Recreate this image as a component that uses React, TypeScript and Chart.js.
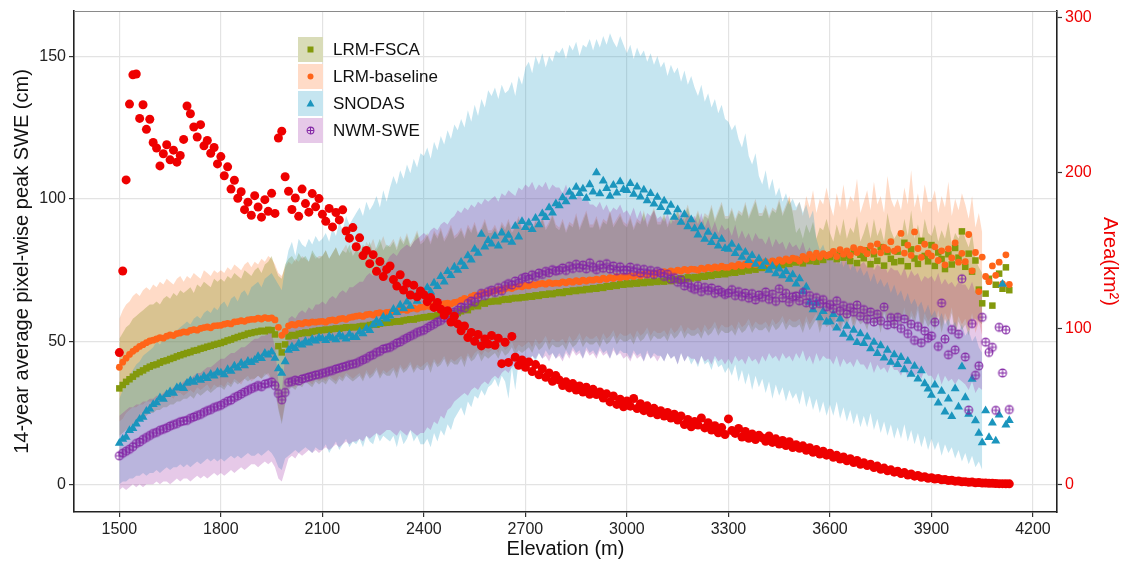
import { useEffect, useRef } from 'react';
import { Chart, registerables } from 'chart.js';

Chart.register(...registerables);

// ---- categories (10 m elevation bins) ----
const ELEVATION: number[] = Array.from({ length: 264 }, (_, i) => 1500 + i * 10);
const X_TICKS = [1500, 1800, 2100, 2400, 2700, 3000, 3300, 3600, 3900, 4200];
const Y_TICKS = [0, 50, 100, 150];
const Y2_TICKS = [0, 100, 200, 300];
const LEGEND_LABELS = ['LRM-FSCA', 'LRM-baseline', 'SNODAS', 'NWM-SWE'];

// ---- series: mean peak SWE (cm), 1500..4130 m ----
const LRM_FSCA = [
  33.6, 34.8, 35.9, 36.8, 37.7, 38.6, 39.3, 39.9, 40.6, 41.2,
  41.7, 42.0, 42.6, 43.1, 43.4, 43.9, 44.3, 44.8, 45.2, 45.6,
  46.0, 46.3, 46.8, 47.0, 47.5, 47.8, 48.2, 48.5, 48.9, 49.2,
  49.5, 49.9, 50.4, 50.7, 51.2, 51.6, 52.0, 52.3, 52.8, 53.0,
  53.3, 53.5, 53.8, 53.6, 54.1, 54.0, 52.5, 48.4, 46.2, 49.0,
  51.8, 52.3, 52.1, 52.7, 52.9, 53.2, 53.0, 53.5, 53.7, 53.9,
  54.0, 54.2, 54.1, 54.4, 54.6, 54.5, 54.8, 55.0, 54.9, 55.1,
  55.0, 55.3, 55.5, 55.4, 55.8, 56.0, 55.9, 56.3, 56.5, 56.6,
  56.7, 56.9, 57.1, 57.0, 57.4, 57.6, 57.8, 57.7, 58.1, 58.3,
  58.5, 58.6, 58.9, 58.8, 59.2, 59.3, 59.6, 59.5, 59.9, 60.0,
  60.0, 60.6, 61.3, 61.0, 62.1, 62.7, 62.4, 63.5, 63.3, 63.9,
  64.0, 64.3, 64.1, 64.6, 64.9, 64.7, 65.1, 65.3, 65.2, 65.5,
  65.5, 65.9, 65.7, 66.2, 66.0, 66.5, 66.4, 66.8, 66.6, 67.0,
  67.3, 67.0, 67.6, 67.4, 67.9, 67.7, 68.1, 68.0, 68.4, 68.3,
  68.7, 68.5, 69.0, 68.8, 69.4, 69.2, 69.7, 69.5, 70.1, 69.9,
  70.4, 70.1, 70.6, 70.3, 70.8, 70.5, 71.0, 70.7, 71.2, 70.9,
  71.3, 71.0, 71.6, 71.2, 71.9, 71.5, 72.2, 71.8, 72.5, 72.1,
  72.6, 72.3, 73.0, 72.7, 73.3, 73.0, 73.7, 73.4, 74.0, 73.6,
  74.0, 74.4, 74.1, 74.9, 74.5, 75.3, 74.9, 75.7, 75.2, 76.1,
  75.8, 76.4, 76.0, 76.9, 76.5, 77.3, 76.8, 77.6, 77.2, 78.0,
  77.7, 78.5, 77.4, 79.0, 78.2, 79.5, 78.0, 79.8, 78.6, 80.2,
  79.6, 80.8, 78.9, 81.3, 79.4, 80.1, 78.2, 81.6, 77.5, 80.4,
  79.2, 82.0, 77.1, 80.6, 78.3, 83.1, 76.6, 81.4, 79.0, 77.8,
  81.5, 78.2, 84.6, 76.4, 82.3, 79.1, 77.2, 85.3, 80.0, 78.1,
  83.8, 76.5, 81.2, 78.9, 75.4, 80.6, 77.0, 82.8, 79.4, 88.6,
  76.2, 80.8, 74.5, 78.4, 68.2, 63.4, 66.8, 72.0, 62.6, 69.9,
  73.8, 68.5, 76.0, 68.0,
];

const LRM_BASELINE = [
  41.0, 42.8, 44.2, 45.5, 46.6, 47.4, 48.3, 48.9, 49.6, 50.2,
  50.5, 50.9, 51.4, 51.2, 51.9, 52.3, 52.1, 52.8, 53.0, 53.4,
  53.3, 53.9, 54.2, 54.0, 54.6, 54.9, 55.1, 54.8, 55.5, 55.6,
  55.7, 56.1, 56.4, 56.2, 56.9, 57.0, 57.3, 57.1, 57.6, 57.8,
  57.8, 58.2, 57.9, 58.4, 58.1, 58.3, 57.6, 55.0, 52.2, 53.6,
  55.5, 56.0, 55.8, 56.4, 56.2, 56.7, 56.5, 56.9, 56.8, 57.0,
  57.1, 56.8, 57.4, 57.6, 57.3, 57.9, 58.1, 57.8, 58.4, 58.6,
  58.9, 59.1, 58.8, 59.4, 59.6, 59.3, 59.9, 60.1, 59.8, 60.2,
  60.3, 60.6, 60.4, 61.0, 61.2, 60.9, 61.5, 61.7, 61.4, 62.0,
  62.1, 62.4, 62.2, 62.8, 63.0, 62.7, 63.3, 63.5, 63.2, 63.7,
  63.9, 64.5, 65.1, 64.8, 65.7, 66.3, 66.0, 66.8, 67.1, 66.9,
  67.5, 67.8, 68.2, 67.9, 68.5, 68.8, 68.6, 69.1, 69.4, 69.2,
  69.7, 69.5, 70.0, 69.8, 70.2, 70.4, 70.1, 70.6, 70.3, 70.5,
  70.4, 70.9, 70.6, 71.1, 70.8, 71.3, 71.0, 71.5, 71.2, 71.6,
  71.5, 71.9, 71.6, 72.2, 71.8, 72.4, 72.1, 72.7, 72.3, 72.8,
  72.6, 73.1, 72.8, 73.4, 73.0, 73.6, 73.3, 73.9, 73.5, 74.1,
  74.0, 74.5, 74.2, 74.8, 74.4, 75.0, 74.7, 75.3, 74.9, 75.4,
  75.3, 75.0, 75.7, 75.4, 76.0, 75.6, 76.2, 75.8, 76.4, 76.0,
  76.0, 76.6, 76.3, 77.0, 76.5, 77.2, 76.8, 77.5, 77.0, 77.7,
  77.5, 78.0, 77.3, 78.3, 77.8, 78.6, 78.1, 79.0, 78.4, 79.2,
  79.0, 78.2, 79.8, 78.8, 80.5, 79.4, 81.0, 79.6, 80.8, 80.1,
  80.5, 81.6, 79.8, 82.2, 80.6, 81.8, 80.2, 82.9, 81.2, 82.4,
  82.0, 80.8, 83.5, 81.6, 84.2, 81.1, 83.0, 82.2, 85.0, 81.7,
  82.5, 87.9, 81.0, 83.8, 80.2, 88.4, 82.6, 79.5, 84.1, 81.0,
  80.0, 83.2, 78.4, 81.8, 76.9, 82.5, 79.3, 84.6, 77.8, 80.9,
  78.0, 87.5, 74.8, 81.2, 67.5, 79.6, 72.8, 71.0, 76.5, 73.2,
  77.8, 70.2, 80.4, 70.0,
];

const SNODAS = [
  14.4, 15.8, 16.5, 18.9, 19.6, 21.2, 22.8, 23.5, 25.6, 26.4,
  28.0, 28.6, 30.3, 29.8, 31.5, 32.4, 31.9, 33.8, 34.2, 33.6,
  35.4, 36.3, 35.8, 37.2, 36.5, 37.8, 37.1, 38.6, 38.0, 39.3,
  39.0, 38.4, 40.2, 39.6, 41.5, 40.8, 42.4, 41.6, 43.1, 42.7,
  43.5, 44.8, 44.1, 45.9, 45.3, 46.4, 44.2, 40.5, 38.9, 43.0,
  47.0, 48.2, 47.6, 49.3, 48.8, 50.1, 49.5, 50.8, 50.2, 51.4,
  51.0, 50.4, 51.8, 51.2, 50.7, 52.3, 51.6, 50.9, 52.6, 51.5,
  51.5, 53.4, 52.8, 54.6, 53.9, 55.8, 57.2, 56.4, 58.6, 57.9,
  59.0, 61.3, 60.2, 62.8, 61.5, 63.9, 62.4, 65.8, 64.2, 67.0,
  66.8, 68.9, 67.4, 70.5, 69.3, 72.8, 70.9, 74.6, 73.2, 76.1,
  75.0, 77.8, 76.3, 80.1, 78.6, 82.4, 81.0, 87.6, 83.2, 85.4,
  84.2, 86.9, 83.5, 88.1, 85.6, 87.3, 84.8, 90.4, 86.7, 92.1,
  90.0, 91.6, 89.3, 93.2, 91.0, 94.8, 93.5, 96.9, 95.1, 98.3,
  97.6, 100.4, 99.0, 102.3, 100.8, 104.1, 101.9, 103.5, 100.2, 105.0,
  102.4, 109.2, 101.8, 106.3, 103.7, 100.9, 104.8, 102.1, 106.0, 103.3,
  103.0, 105.4, 101.6, 104.2, 100.7, 103.1, 99.4, 101.9, 98.2, 100.6,
  97.0, 99.3, 95.4, 97.8, 93.6, 96.2, 91.8, 94.5, 90.3, 92.7,
  89.6, 87.4, 90.2, 85.9, 88.3, 84.7, 86.8, 83.5, 85.9, 82.6,
  82.4, 84.1, 80.9, 82.8, 79.6, 81.3, 78.4, 80.2, 77.1, 79.0,
  76.3, 77.8, 75.0, 76.4, 73.8, 75.5, 73.1, 74.6, 71.9, 73.4,
  70.2, 72.0, 67.5, 69.1, 63.8, 61.2, 63.5, 58.4, 60.6, 56.9,
  57.0, 59.5, 54.8, 57.9, 52.6, 55.4, 51.3, 54.0, 49.7, 52.8,
  49.4, 51.6, 47.5, 49.8, 45.9, 48.6, 44.3, 47.0, 42.8, 45.4,
  42.0, 44.5, 40.2, 43.1, 38.6, 41.4, 36.9, 39.8, 35.3, 33.4,
  31.2, 34.8, 28.5, 32.6, 25.4, 29.9, 23.8, 33.5, 27.1, 41.2,
  30.4, 24.6, 36.8, 22.3, 17.9, 14.6, 25.8, 16.4, 21.5, 15.2,
  24.3, 70.1, 20.8, 22.4,
];

const NWM_SWE = [
  10.0, 10.9, 11.6, 12.3, 13.2, 14.3, 14.8, 15.7, 16.4, 17.1,
  17.8, 18.2, 18.9, 19.3, 19.8, 20.4, 20.9, 21.3, 21.9, 22.2,
  22.4, 23.1, 23.6, 24.1, 24.5, 25.2, 25.8, 26.2, 26.9, 27.3,
  27.7, 28.4, 29.1, 29.5, 30.4, 31.0, 31.6, 32.3, 32.9, 33.5,
  34.0, 34.6, 34.2, 35.1, 35.4, 35.9, 34.6, 31.8, 29.6, 32.2,
  35.7, 36.0, 36.5, 36.2, 36.9, 37.2, 37.6, 37.9, 38.3, 38.5,
  38.9, 39.2, 39.6, 39.9, 40.4, 40.7, 41.1, 41.4, 41.9, 42.1,
  42.4, 43.0, 43.6, 44.1, 44.9, 45.4, 46.2, 46.6, 47.4, 47.7,
  48.0, 48.7, 49.5, 49.9, 50.7, 51.3, 51.9, 52.5, 53.2, 53.6,
  54.0, 54.8, 55.5, 56.1, 56.9, 57.4, 58.3, 58.9, 59.7, 60.3,
  61.0, 62.1, 61.7, 63.4, 64.2, 63.8, 65.5, 66.9, 66.1, 67.5,
  68.0, 67.2, 68.9, 67.8, 69.6, 70.3, 69.8, 71.2, 70.6, 72.1,
  72.6, 71.9, 73.4, 72.8, 74.0, 73.5, 74.6, 74.1, 75.2, 74.7,
  75.0, 75.8, 74.9, 76.4, 75.6, 77.1, 75.9, 76.8, 75.5, 77.6,
  76.0, 75.2, 76.9, 75.7, 77.3, 75.4, 76.5, 74.8, 76.2, 75.0,
  75.0, 76.1, 74.5, 75.6, 74.0, 75.3, 73.8, 74.9, 73.5, 74.6,
  74.0, 72.8, 73.6, 71.9, 72.4, 70.8, 71.6, 69.5, 70.4, 68.9,
  68.3, 69.6, 67.5, 69.0, 67.9, 68.8, 66.9, 68.1, 67.3, 66.5,
  67.0, 68.2, 66.1, 67.5, 65.8, 67.0, 65.2, 66.8, 64.6, 66.3,
  65.5, 67.4, 64.8, 66.6, 64.1, 68.5, 65.3, 66.9, 63.8, 65.7,
  66.0, 64.3, 67.2, 63.6, 66.1, 62.9, 65.4, 63.3, 64.7, 62.2,
  63.0, 61.5, 64.3, 60.8, 62.6, 59.7, 61.9, 60.3, 62.8, 58.9,
  61.2, 57.8, 60.4, 56.9, 59.6, 57.3, 62.1, 55.8, 58.4, 56.2,
  58.5, 54.6, 57.9, 52.8, 56.1, 50.4, 55.3, 49.6, 53.7, 51.2,
  52.0, 56.8, 48.3, 63.5, 50.9, 45.4, 54.2, 47.1, 52.6, 72.0,
  44.6, 26.0, 56.3, 38.2, 41.5, 58.5, 49.8, 46.2, 48.0, 25.9,
  55.0, 39.0, 54.1, 26.2,
];

// ---- area per elevation bin (km^2), right axis ----
const AREA_KM2 = [
  84.6, 137.0, 195.5, 244.2, 263.0, 263.5, 235.0, 243.8, 228.0, 234.5,
  219.5, 216.0, 204.5, 212.3, 218.1, 208.4, 214.6, 206.9, 211.2, 221.5,
  243.0, 238.0, 229.5, 223.1, 231.0, 217.4, 220.8, 212.6, 216.3, 205.8,
  210.5, 198.2, 203.9, 189.6, 195.3, 183.7, 187.9, 176.4, 181.2, 172.8,
  185.4, 178.1, 171.6, 182.8, 175.3, 186.9, 174.0, 222.4, 226.8, 197.5,
  188.2, 176.5, 183.9, 172.1, 189.6, 180.3, 174.8, 186.7, 178.2, 183.5,
  173.4, 168.9, 177.2, 165.3, 174.6, 169.8, 176.3, 162.7, 158.1, 164.9,
  152.6, 158.3, 146.9, 150.2, 141.7, 147.5, 136.8, 143.1, 133.4, 138.0,
  140.2, 131.5, 127.3, 134.6, 124.8, 129.1, 121.6, 127.9, 120.4, 124.2,
  121.8, 117.3, 119.9, 113.6, 116.8, 112.4, 108.7, 111.5, 104.2, 107.9,
  103.0, 98.6, 101.7, 94.3, 97.5, 91.8, 96.2, 88.9, 93.4, 90.1,
  95.6, 89.3, 93.8, 77.5, 91.2, 78.3, 95.0, 81.6, 76.4, 79.8,
  75.1, 78.6, 72.4, 76.9, 70.3, 74.2, 68.7, 71.5, 66.2, 69.8,
  67.0, 63.4, 65.8, 61.9, 64.7, 60.5, 63.1, 59.2, 62.4, 57.8,
  61.0, 57.6, 59.3, 55.4, 58.1, 52.9, 56.7, 51.3, 54.6, 49.8,
  53.5, 50.2, 55.1, 48.6, 51.7, 47.3, 50.4, 45.9, 48.8, 44.7,
  47.2, 43.8, 46.1, 42.5, 45.0, 41.3, 43.9, 38.4, 41.6, 36.9,
  40.3, 38.1, 42.6, 36.2, 39.5, 34.8, 37.6, 33.1, 36.4, 31.9,
  42.0, 34.5, 32.7, 35.8, 30.4, 33.9, 29.6, 32.3, 28.8, 31.5,
  29.8, 27.6, 31.0, 26.9, 29.2, 25.8, 28.1, 24.9, 27.3, 23.6,
  25.4, 23.1, 24.7, 21.8, 23.5, 20.6, 22.3, 19.4, 21.2, 18.7,
  19.9, 17.3, 18.6, 16.2, 17.5, 15.1, 16.4, 14.0, 15.3, 12.9,
  13.8, 12.1, 12.9, 10.8, 11.7, 9.6, 10.4, 8.7, 9.3, 7.8,
  8.4, 6.9, 7.5, 6.0, 6.6, 5.2, 5.7, 4.5, 4.9, 3.9,
  4.2, 3.4, 3.7, 2.9, 3.1, 2.4, 2.6, 2.0, 2.1, 1.6,
  1.7, 1.3, 1.4, 1.0, 1.1, 0.8, 0.8, 0.6, 0.6, 0.5,
  0.4, 0.4, 0.3, 0.3,
];

// ---- spread bands (cm), 1500..4050 m ----
const LRM_BASELINE_HI = [
  58, 61, 63, 64, 66, 67, 66, 68, 69, 68,
  70, 69, 71, 70, 72, 71, 70, 72, 73, 71,
  73, 72, 74, 73, 72, 75, 74, 73, 75, 74,
  75, 74, 76, 75, 77, 76, 75, 77, 78, 76,
  78, 77, 79, 78, 80, 79, 77, 74, 73, 76,
  78, 77, 79, 78, 80, 79, 78, 81, 79, 80,
  80, 82, 79, 81, 83, 80, 82, 84, 81, 83,
  82, 84, 81, 85, 83, 86, 82, 84, 87, 83,
  84, 86, 83, 87, 85, 88, 84, 86, 89, 85,
  86, 88, 85, 89, 87, 90, 86, 88, 91, 87,
  88, 90, 87, 91, 89, 92, 88, 90, 93, 89,
  89, 91, 88, 92, 90, 93, 89, 91, 94, 90,
  90, 92, 89, 93, 91, 94, 90, 92, 95, 91,
  90, 93, 89, 92, 91, 95, 90, 93, 96, 91,
  91, 94, 90, 93, 92, 96, 91, 93, 95, 92,
  91, 94, 90, 93, 92, 96, 91, 94, 97, 92,
  92, 95, 91, 94, 93, 97, 92, 95, 98, 93,
  93, 96, 92, 95, 94, 98, 93, 96, 99, 94,
  94, 97, 93, 96, 95, 99, 94, 97, 100, 95,
  95, 98, 94, 97, 96, 100, 95, 98, 101, 96,
  96, 99, 94, 101, 97, 103, 95, 100, 98, 104,
  98, 94, 102, 97, 105, 96, 101, 99, 107, 95,
  99, 103, 96, 106, 98, 101, 95, 108, 100, 97,
  100, 96, 104, 98, 110, 97, 102, 95, 105, 99,
  99, 103, 95, 101, 97, 106, 94, 100, 96, 102,
  98, 93, 101, 90, 95, 88,
];
const LRM_BASELINE_LO = [
  22, 23, 25, 26, 27, 27, 28, 28, 29, 29,
  29, 30, 30, 29, 31, 31, 30, 32, 32, 31,
  32, 33, 32, 34, 33, 34, 35, 33, 35, 34,
  35, 34, 36, 35, 37, 36, 35, 37, 38, 36,
  37, 38, 37, 39, 38, 36, 33, 27, 22, 29,
  34, 35, 34, 36, 35, 37, 36, 35, 37, 36,
  37, 36, 38, 37, 36, 38, 37, 39, 38, 37,
  38, 39, 37, 40, 38, 39, 41, 38, 40, 39,
  40, 41, 39, 42, 40, 41, 43, 40, 42, 41,
  42, 43, 41, 44, 42, 43, 45, 42, 44, 43,
  44, 45, 43, 46, 44, 46, 47, 45, 47, 46,
  47, 48, 46, 49, 47, 48, 50, 47, 49, 48,
  49, 50, 48, 51, 49, 50, 52, 49, 51, 50,
  50, 51, 49, 52, 50, 51, 53, 50, 52, 51,
  51, 52, 50, 53, 51, 52, 54, 51, 53, 52,
  52, 53, 51, 54, 52, 53, 55, 52, 54, 53,
  53, 54, 52, 55, 53, 54, 56, 53, 55, 54,
  54, 55, 53, 56, 54, 55, 57, 54, 56, 55,
  55, 56, 54, 57, 55, 56, 58, 55, 57, 56,
  56, 57, 55, 58, 56, 57, 59, 56, 58, 57,
  57, 58, 55, 59, 56, 58, 60, 55, 59, 57,
  58, 56, 60, 55, 59, 57, 61, 56, 60, 58,
  59, 56, 61, 57, 60, 55, 62, 58, 60, 56,
  60, 57, 62, 56, 61, 58, 63, 55, 60, 57,
  59, 56, 61, 55, 60, 57, 62, 54, 59, 56,
  58, 54, 60, 53, 57, 52,
];
const LRM_FSCA_HI = [
  51, 53, 55, 56, 58, 59, 60, 61, 62, 63,
  63, 64, 63, 65, 66, 65, 67, 66, 68, 67,
  68, 69, 67, 70, 69, 71, 70, 69, 72, 71,
  72, 71, 73, 72, 74, 73, 72, 75, 74, 73,
  75, 76, 74, 77, 78, 80, 76, 73, 72, 77,
  79, 80, 78, 81, 79, 80, 78, 82, 80, 79,
  80, 82, 79, 81, 83, 80, 82, 81, 84, 80,
  82, 81, 84, 82, 85, 81, 83, 86, 82, 84,
  83, 85, 82, 86, 84, 87, 83, 85, 88, 84,
  85, 87, 84, 88, 86, 89, 85, 87, 90, 86,
  87, 89, 86, 90, 88, 91, 87, 89, 92, 88,
  88, 90, 87, 91, 89, 92, 88, 90, 93, 89,
  89, 91, 88, 92, 90, 93, 89, 91, 94, 90,
  89, 92, 88, 91, 90, 94, 89, 92, 95, 90,
  90, 93, 89, 92, 91, 95, 90, 92, 94, 91,
  90, 93, 89, 92, 91, 95, 90, 93, 96, 91,
  91, 94, 90, 93, 92, 96, 91, 94, 97, 92,
  92, 95, 91, 94, 93, 97, 92, 95, 98, 93,
  93, 96, 92, 95, 94, 98, 93, 96, 99, 94,
  94, 97, 93, 96, 95, 99, 94, 97, 100, 95,
  88, 90, 86, 91, 88, 92, 86, 90, 89, 93,
  88, 85, 91, 87, 93, 86, 90, 88, 94, 85,
  88, 92, 86, 93, 87, 90, 85, 95, 89, 86,
  88, 86, 93, 87, 96, 86, 91, 85, 93, 88,
  87, 91, 85, 89, 86, 92, 84, 88, 86, 90,
  86, 83, 88, 79, 76, 74,
];
const LRM_FSCA_LO = [
  17, 18, 19, 20, 21, 22, 23, 23, 24, 25,
  25, 26, 26, 27, 27, 28, 28, 29, 29, 30,
  30, 31, 30, 32, 31, 32, 33, 32, 33, 34,
  34, 33, 35, 34, 36, 35, 36, 37, 36, 37,
  37, 38, 37, 38, 39, 37, 33, 26, 21, 28,
  33, 34, 33, 35, 34, 36, 35, 34, 36, 35,
  36, 35, 37, 36, 35, 37, 36, 38, 37, 36,
  37, 38, 36, 39, 37, 38, 40, 37, 39, 38,
  38, 40, 37, 41, 39, 40, 42, 39, 41, 40,
  40, 42, 39, 43, 41, 42, 44, 41, 43, 42,
  42, 44, 41, 45, 43, 44, 46, 43, 45, 44,
  45, 46, 44, 47, 45, 46, 48, 45, 47, 46,
  47, 48, 46, 49, 47, 48, 50, 47, 49, 48,
  48, 49, 47, 50, 48, 49, 51, 48, 50, 49,
  49, 50, 48, 51, 49, 50, 52, 49, 51, 50,
  50, 51, 49, 52, 50, 51, 53, 50, 52, 51,
  51, 52, 50, 53, 51, 52, 54, 51, 53, 52,
  52, 53, 51, 54, 52, 53, 55, 52, 54, 53,
  53, 54, 52, 55, 53, 54, 56, 53, 55, 54,
  54, 55, 53, 56, 54, 55, 57, 54, 56, 55,
  55, 56, 53, 57, 54, 56, 58, 53, 57, 55,
  56, 54, 58, 53, 57, 55, 59, 54, 58, 56,
  57, 54, 59, 55, 58, 53, 60, 56, 58, 54,
  58, 55, 60, 54, 59, 56, 61, 53, 58, 55,
  57, 54, 59, 53, 58, 55, 60, 52, 57, 54,
  56, 52, 58, 58, 57, 56,
];
const SNODAS_HI = [
  30, 33, 36, 38, 40, 42, 43, 45, 46, 47,
  48, 50, 49, 51, 52, 53, 52, 54, 55, 56,
  57, 56, 58, 59, 58, 60, 61, 60, 62, 61,
  63, 64, 62, 65, 66, 64, 67, 68, 66, 69,
  70, 71, 69, 72, 73, 74, 72, 70, 68, 76,
  82, 85, 80, 86, 84, 83, 86, 84, 87, 85,
  86, 88, 85, 90, 87, 92, 89, 94, 91, 93,
  95, 97, 94, 99, 96, 98, 101, 97, 103, 99,
  104, 108, 105, 110, 107, 112, 109, 114, 111, 116,
  115, 118, 114, 120, 117, 122, 119, 124, 121, 126,
  124, 128, 125, 131, 127, 133, 129, 135, 132, 138,
  136, 139, 135, 140, 137, 138, 141, 136, 143, 140,
  146, 148, 144, 150, 147, 151, 146, 150, 148, 152,
  151, 153, 149, 154, 152, 155, 150, 154, 153, 156,
  152, 156, 153, 157, 154, 158, 155, 153, 157, 154,
  151, 154, 149, 153, 150, 152, 148, 151, 147, 150,
  146, 148, 143, 147, 144, 146, 141, 145, 140, 143,
  139, 136, 140, 134, 137, 132, 135, 130, 133, 128,
  127, 124, 126, 121, 118, 123, 115, 112, 116, 108,
  105, 110, 103, 107, 101, 104, 99, 102, 98, 100,
  97, 99, 95, 98, 93, 96, 86, 82, 84, 80,
  79, 82, 77, 80, 76, 79, 75, 78, 74, 76,
  73, 75, 71, 74, 70, 72, 69, 71, 67, 70,
  66, 68, 64, 67, 63, 65, 62, 64, 60, 63,
  59, 61, 57, 60, 56, 58, 55, 57, 53, 56,
  52, 54, 50, 52, 48, 46,
];
const SNODAS_LO = [
  0, 1, 1, 2, 2, 3, 3, 4, 3, 4,
  4, 5, 4, 5, 6, 5, 6, 6, 7, 6,
  7, 6, 7, 8, 7, 8, 9, 8, 9, 8,
  9, 8, 9, 10, 9, 10, 9, 10, 11, 10,
  10, 11, 10, 11, 12, 11, 9, 6, 5, 9,
  10, 11, 12, 11, 12, 13, 12, 11, 13, 12,
  12, 14, 11, 13, 15, 12, 14, 16, 13, 15,
  14, 16, 13, 17, 15, 14, 18, 15, 17, 16,
  15, 17, 13, 18, 14, 16, 19, 15, 17, 14,
  14, 16, 13, 18, 15, 19, 17, 21, 19, 23,
  25, 27, 24, 29, 27, 31, 30, 33, 31, 34,
  35, 37, 34, 38, 36, 30, 41, 33, 43, 39,
  44, 42, 45, 43, 46, 44, 47, 45, 46, 44,
  46, 44, 47, 45, 48, 46, 47, 44, 48, 46,
  47, 45, 48, 46, 47, 44, 48, 45, 47, 46,
  46, 44, 47, 45, 46, 43, 47, 44, 46, 45,
  45, 43, 46, 44, 45, 42, 46, 43, 45, 42,
  44, 41, 45, 42, 43, 40, 44, 41, 42, 39,
  41, 38, 42, 36, 40, 35, 39, 33, 38, 34,
  37, 32, 36, 30, 35, 31, 34, 29, 33, 30,
  32, 28, 33, 27, 31, 26, 30, 25, 29, 24,
  28, 24, 29, 23, 27, 22, 26, 21, 25, 20,
  24, 20, 25, 19, 23, 18, 22, 17, 21, 16,
  20, 16, 21, 15, 19, 14, 18, 13, 17, 12,
  16, 12, 15, 10, 14, 11, 13, 9, 12, 8,
  11, 7, 10, 6, 8, 5,
];
const NWM_SWE_HI = [
  24, 25, 26, 27, 27, 28, 28, 29, 29, 30,
  30, 31, 31, 32, 33, 33, 34, 35, 35, 36,
  37, 37, 38, 39, 39, 40, 41, 41, 42, 43,
  44, 44, 45, 46, 46, 47, 48, 48, 49, 50,
  51, 51, 52, 52, 53, 53, 48, 36, 32, 45,
  58, 59, 58, 60, 61, 60, 62, 61, 63, 63,
  64, 63, 65, 66, 65, 67, 68, 67, 69, 69,
  70, 71, 71, 73, 74, 73, 75, 76, 77, 78,
  80, 81, 80, 82, 83, 84, 83, 85, 86, 87,
  88, 87, 89, 90, 89, 91, 92, 91, 93, 94,
  96, 95, 97, 96, 98, 97, 99, 98, 100, 99,
  100, 101, 99, 102, 101, 103, 102, 101, 104, 103,
  105, 104, 106, 103, 105, 104, 106, 103, 105, 104,
  104, 102, 105, 101, 103, 100, 102, 99, 101, 98,
  98, 97, 99, 96, 98, 95, 97, 96, 98, 95,
  96, 94, 97, 93, 96, 92, 95, 94, 96, 93,
  94, 92, 95, 91, 94, 93, 96, 92, 95, 93,
  94, 91, 95, 90, 93, 89, 92, 88, 91, 89,
  90, 87, 91, 86, 89, 86, 88, 85, 88, 86,
  86, 84, 87, 83, 86, 84, 85, 82, 85, 83,
  84, 82, 85, 81, 83, 80, 82, 79, 81, 80,
  80, 78, 81, 77, 80, 78, 79, 76, 78, 77,
  78, 76, 79, 75, 77, 76, 78, 74, 76, 75,
  75, 73, 76, 72, 75, 73, 74, 71, 73, 72,
  73, 71, 74, 70, 72, 70, 71, 69, 71, 70,
  70, 68, 71, 67, 69, 68,
];
const NWM_SWE_LO = [
  -2, -1, -2, -1, 0, -1, 0, -1, 0, 0,
  0, 1, 0, 1, 1, 0, 1, 2, 1, 2,
  2, 1, 2, 3, 2, 3, 2, 3, 4, 3,
  4, 3, 4, 5, 4, 5, 6, 5, 6, 7,
  7, 6, 7, 8, 7, 8, 6, 2, 1, 5,
  9, 10, 9, 11, 10, 11, 12, 11, 12, 11,
  12, 13, 12, 13, 14, 13, 14, 15, 14, 15,
  15, 16, 15, 17, 16, 17, 18, 17, 18, 19,
  19, 18, 17, 19, 18, 17, 19, 18, 17, 18,
  18, 20, 19, 22, 21, 24, 23, 26, 27, 29,
  30, 31, 32, 31, 33, 34, 33, 35, 36, 35,
  37, 38, 37, 39, 40, 39, 41, 42, 41, 43,
  44, 43, 45, 44, 46, 44, 45, 43, 46, 44,
  45, 43, 46, 44, 47, 45, 46, 44, 47, 45,
  46, 44, 47, 45, 46, 44, 47, 45, 46, 44,
  45, 43, 46, 44, 45, 43, 46, 44, 45, 43,
  45, 43, 46, 44, 45, 42, 46, 43, 45, 44,
  44, 42, 45, 43, 44, 42, 45, 43, 44, 42,
  44, 42, 45, 43, 44, 42, 45, 43, 44, 42,
  45, 43, 46, 44, 45, 43, 46, 44, 45, 43,
  46, 44, 47, 43, 45, 42, 46, 43, 45, 44,
  44, 42, 45, 41, 44, 42, 43, 41, 44, 42,
  42, 40, 43, 39, 42, 40, 41, 39, 42, 40,
  40, 38, 41, 37, 40, 38, 39, 37, 40, 38,
  38, 36, 39, 35, 38, 36, 37, 35, 37, 36,
  35, 33, 36, 32, 34, 33,
];

// ---- styles ----
const FONT = '"Liberation Sans", Arial, Helvetica, sans-serif';
const C_GREEN = '#83990C';
const C_ORANGE = '#FF6419';
const C_TEAL = '#1B95BD';
const C_PURPLE = '#8428A6';
const C_RED = '#EE0000';
const B_GREEN = 'rgba(130,140,20,0.30)';
const B_ORANGE = 'rgba(255,110,30,0.25)';
const B_TEAL = 'rgba(40,160,200,0.27)';
const B_PURPLE = 'rgba(150,30,160,0.24)';

function pts(values: number[]) {
  return values.map((v, i) => ({ x: ELEVATION[i], y: v }));
}

function crossCircle(color: string, r: number, lw: number) {
  const size = Math.ceil(2 * r + 2 * lw + 2);
  const c = document.createElement('canvas');
  c.width = size;
  c.height = size;
  const g = c.getContext('2d')!;
  const m = size / 2;
  g.strokeStyle = color;
  g.lineWidth = lw;
  g.beginPath();
  g.arc(m, m, r, 0, Math.PI * 2);
  g.stroke();
  g.beginPath();
  g.moveTo(m, m - r);
  g.lineTo(m, m + r);
  g.moveTo(m - r, m);
  g.lineTo(m + r, m);
  g.stroke();
  return c;
}

export default function App() {
  const ref = useRef<HTMLCanvasElement>(null);

  useEffect(() => {
    document.body.style.margin = '0';
    const canvas = ref.current!;
    const nwmStyle = crossCircle(C_PURPLE, 3.9, 1.1);
    const nwmLegend = crossCircle(C_PURPLE, 3.4, 1.1);

    const band = (lo: number[], hi: number[], color: string, order: number) => [
      {
        type: 'line' as const,
        data: pts(lo),
        borderColor: 'rgba(0,0,0,0)',
        borderWidth: 0,
        pointRadius: 0,
        fill: false,
        order,
        yAxisID: 'y',
      },
      {
        type: 'line' as const,
        data: pts(hi),
        borderColor: 'rgba(0,0,0,0)',
        borderWidth: 0,
        pointRadius: 0,
        backgroundColor: color,
        fill: '-1',
        order,
        yAxisID: 'y',
      },
    ];

    const legendPlugin = {
      id: 'customLegend',
      afterDraw(chart: any) {
        const ctx = chart.ctx as CanvasRenderingContext2D;
        const a = chart.chartArea;
        ctx.save();
        ctx.strokeStyle = '#8a8a8a';
        ctx.lineWidth = 1;
        ctx.beginPath();
        ctx.moveTo(a.left, a.top + 0.5);
        ctx.lineTo(a.right, a.top + 0.5);
        ctx.stroke();

        const bands = [B_GREEN, B_ORANGE, B_TEAL, B_PURPLE];
        const s = 25;
        const x0 = 298;
        for (let i = 0; i < 4; i++) {
          const y0 = 37 + i * 27;
          ctx.fillStyle = '#ffffff';
          ctx.fillRect(x0, y0, s, s);
          ctx.fillStyle = bands[i];
          ctx.fillRect(x0, y0, s, s);
          const cx = x0 + s / 2;
          const cy = y0 + s / 2;
          if (i === 0) {
            ctx.fillStyle = C_GREEN;
            ctx.fillRect(cx - 3, cy - 3, 6, 6);
          } else if (i === 1) {
            ctx.fillStyle = C_ORANGE;
            ctx.beginPath();
            ctx.arc(cx, cy, 3, 0, Math.PI * 2);
            ctx.fill();
          } else if (i === 2) {
            ctx.fillStyle = C_TEAL;
            ctx.beginPath();
            ctx.moveTo(cx, cy - 4);
            ctx.lineTo(cx + 4, cy + 3);
            ctx.lineTo(cx - 4, cy + 3);
            ctx.closePath();
            ctx.fill();
          } else {
            ctx.drawImage(nwmLegend, cx - nwmLegend.width / 2, cy - nwmLegend.height / 2);
          }
          ctx.fillStyle = '#111111';
          ctx.font = `17px ${FONT}`;
          ctx.textAlign = 'left';
          ctx.textBaseline = 'middle';
          ctx.fillText(LEGEND_LABELS[i], 333, cy + 1);
        }
        ctx.restore();
      },
    };

    const tickFont = { family: FONT, size: 16 };
    const titleFont = { family: FONT, size: 20 };

    const chart = new Chart(canvas, {
      type: 'scatter',
      data: {
        datasets: [
          ...band(LRM_BASELINE_LO, LRM_BASELINE_HI, B_ORANGE, 19),
          ...band(LRM_FSCA_LO, LRM_FSCA_HI, B_GREEN, 18),
          ...band(SNODAS_LO, SNODAS_HI, B_TEAL, 17),
          ...band(NWM_SWE_LO, NWM_SWE_HI, B_PURPLE, 16),
          {
            type: 'scatter',
            label: 'LRM-FSCA',
            data: pts(LRM_FSCA),
            pointStyle: 'rect',
            pointRadius: 4.6,
            backgroundColor: C_GREEN,
            borderWidth: 0,
            order: 5,
            yAxisID: 'y',
          },
          {
            type: 'scatter',
            label: 'LRM-baseline',
            data: pts(LRM_BASELINE),
            pointStyle: 'circle',
            pointRadius: 3.4,
            backgroundColor: C_ORANGE,
            borderWidth: 0,
            order: 4,
            yAxisID: 'y',
          },
          {
            type: 'scatter',
            label: 'SNODAS',
            data: pts(SNODAS),
            pointStyle: 'triangle',
            pointRadius: 5.2,
            backgroundColor: C_TEAL,
            borderWidth: 0,
            order: 3,
            yAxisID: 'y',
          },
          {
            type: 'scatter',
            label: 'NWM-SWE',
            data: pts(NWM_SWE),
            pointStyle: nwmStyle as any,
            pointRadius: 4.5,
            backgroundColor: C_PURPLE,
            borderWidth: 0,
            order: 2,
            yAxisID: 'y',
          },
          {
            type: 'scatter',
            label: 'Area',
            data: pts(AREA_KM2),
            pointStyle: 'circle',
            pointRadius: 4.5,
            backgroundColor: C_RED,
            borderWidth: 0,
            order: 1,
            yAxisID: 'y2',
          },
        ] as any,
      },
      options: {
        responsive: false,
        animation: false,
        devicePixelRatio: 1,
        events: [],
        layout: { padding: { top: 11, left: 0, right: 0, bottom: 0 } },
        plugins: {
          legend: { display: false },
          tooltip: { enabled: false },
          filler: { propagate: false },
        },
        scales: {
          x: {
            type: 'linear',
            min: 1366,
            max: 4271,
            afterBuildTicks: (s: any) => {
              s.ticks = X_TICKS.map((v) => ({ value: v }));
            },
            afterFit: (s: any) => {
              s.height = 52;
              s.paddingLeft = 0;
              s.paddingRight = 0;
            },
            ticks: {
              font: tickFont,
              color: '#222222',
              padding: 3,
              maxRotation: 0,
              autoSkip: false,
              callback: (v: any) => String(v),
            },
            grid: {
              color: '#E3E3E3',
              lineWidth: 1.2,
              tickColor: '#333333',
              tickLength: 5,
              tickWidth: 1.2,
            },
            border: { color: '#222222', width: 1.6 },
            title: {
              display: true,
              text: 'Elevation (m)',
              font: titleFont,
              color: '#111111',
              padding: { top: 0, bottom: 3 },
            },
          },
          y: {
            type: 'linear',
            position: 'left',
            min: -9.7,
            max: 165.8,
            afterBuildTicks: (s: any) => {
              s.ticks = Y_TICKS.map((v) => ({ value: v }));
            },
            afterFit: (s: any) => {
              s.width = 74;
              s.paddingTop = 0;
              s.paddingBottom = 0;
            },
            ticks: {
              font: tickFont,
              color: '#222222',
              padding: 3,
              callback: (v: any) => String(v),
            },
            grid: {
              color: '#E3E3E3',
              lineWidth: 1.2,
              tickColor: '#333333',
              tickLength: 5,
              tickWidth: 1.2,
            },
            border: { color: '#222222', width: 1.6 },
            title: {
              display: true,
              text: '14-year average pixel-wise peak SWE (cm)',
              font: titleFont,
              color: '#111111',
              padding: { top: 10, bottom: 0 },
            },
          },
          y2: {
            type: 'linear',
            position: 'right',
            min: -17.8,
            max: 304,
            afterBuildTicks: (s: any) => {
              s.ticks = Y2_TICKS.map((v) => ({ value: v }));
            },
            afterFit: (s: any) => {
              s.width = 72;
              s.paddingTop = 0;
              s.paddingBottom = 0;
            },
            ticks: {
              font: tickFont,
              color: C_RED,
              padding: 3,
              callback: (v: any) => String(v),
            },
            grid: {
              drawOnChartArea: false,
              tickColor: '#333333',
              tickLength: 5,
              tickWidth: 1.2,
            },
            border: { color: '#222222', width: 1.6 },
            title: {
              display: true,
              text: 'Area(km²)',
              font: titleFont,
              color: C_RED,
              padding: { top: 7, bottom: 0 },
            },
          },
        },
      } as any,
      plugins: [legendPlugin],
    });

    return () => chart.destroy();
  }, []);

  return (
    <div style={{ width: 1129, height: 564 }}>
      <canvas ref={ref} width={1129} height={564} style={{ display: 'block', width: 1129, height: 564 }} />
    </div>
  );
}
